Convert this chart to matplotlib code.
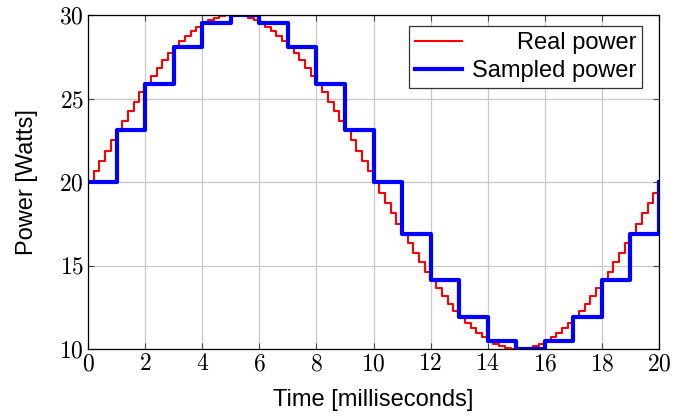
import numpy as np
import matplotlib
matplotlib.use("Agg")
import matplotlib.pyplot as plt
from matplotlib.ticker import FuncFormatter

# real power, one value every 0.2 ms
real_step_ms = 0.2
real_power = [20.00, 20.63, 21.25, 21.87, 22.49, 23.09, 23.68, 24.26, 24.82, 25.36,
              25.88, 26.37, 26.85, 27.29, 27.71, 28.09, 28.44, 28.76, 29.05, 29.30,
              29.51, 29.69, 29.82, 29.92, 29.98, 30.00,
              29.98, 29.92, 29.82, 29.69, 29.51, 29.30, 29.05, 28.76, 28.44, 28.09,
              27.71, 27.29, 26.85, 26.37, 25.88, 25.36, 24.82, 24.26, 23.68, 23.09,
              22.49, 21.87, 21.25, 20.63, 20.00,
              19.37, 18.75, 18.13, 17.51, 16.91, 16.32, 15.74, 15.18, 14.64, 14.12,
              13.63, 13.15, 12.71, 12.29, 11.91, 11.56, 11.24, 10.95, 10.70, 10.49,
              10.31, 10.18, 10.08, 10.02, 10.00,
              10.02, 10.08, 10.18, 10.31, 10.49, 10.70, 10.95, 11.24, 11.56, 11.91,
              12.29, 12.71, 13.15, 13.63, 14.12, 14.64, 15.18, 15.74, 16.32, 16.91,
              17.51, 18.13, 18.75, 19.37, 20.00]

# sampled power, one value every 1 ms
sample_step_ms = 1.0
sampled_power = [20.0, 23.09, 25.88, 28.09, 29.51, 30.0, 29.51, 28.09, 25.88, 23.09,
                 20.0, 16.91, 14.12, 11.91, 10.49, 10.0, 10.49, 11.91, 14.12, 16.91, 20.0]

x_ticks = [0, 2, 4, 6, 8, 10, 12, 14, 16, 18, 20]
y_ticks = [10, 15, 20, 25, 30]

plt.rcParams['font.family'] = ['Liberation Sans', 'DejaVu Sans']
plt.rcParams['mathtext.fontset'] = 'cm'

fig = plt.figure(figsize=(6.94, 4.16), dpi=100)
ax = fig.add_axes([88/694, 1 - 349/416, (659 - 88)/694, (349 - 15)/416])

real_t = np.arange(len(real_power)) * real_step_ms
samp_t = np.arange(len(sampled_power)) * sample_step_ms

ax.step(real_t, real_power, where='post', color='red', lw=1.5, label='Real power')
ax.step(samp_t, sampled_power, where='post', color='blue', lw=3, label='Sampled power')

ax.set_xlim(0, 20)
ax.set_ylim(10, 30)
ax.set_xticks(x_ticks)
ax.set_yticks(y_ticks)
fmt = FuncFormatter(lambda v, p: f'${v:g}$')
ax.xaxis.set_major_formatter(fmt)
ax.yaxis.set_major_formatter(fmt)
ax.tick_params(direction='in', length=4, width=0.8, color='#444444',
               top=True, right=True, labelsize=17, pad=3)
ax.grid(True, color='#c8c8c8', lw=0.9)
ax.set_axisbelow(True)
for s in ax.spines.values():
    s.set_linewidth(0.9)

ax.set_xlabel('Time [milliseconds]', fontsize=17, labelpad=10)
ax.set_ylabel('Power [Watts]', fontsize=17, labelpad=15)

leg = ax.legend(loc='upper right', bbox_to_anchor=(1 - 17/571, 1 - 11/334),
                fontsize=17, frameon=True, fancybox=False, framealpha=1,
                edgecolor='#333333', borderpad=0.25, labelspacing=0.25,
                handlelength=2.0, handletextpad=0.4, borderaxespad=0)
leg.get_frame().set_linewidth(0.9)

# right-align legend texts (handles stay on the left), like pgfplots
fig.canvas.draw()
renderer = fig.canvas.get_renderer()
for col in leg._legend_handle_box.get_children():
    items = col.get_children()
    maxw = max(it.get_bbox(renderer).width for it in items)
    for it in items:
        it.width = maxw
        it.mode = 'expand'

fig.savefig('out.png', dpi=100)
